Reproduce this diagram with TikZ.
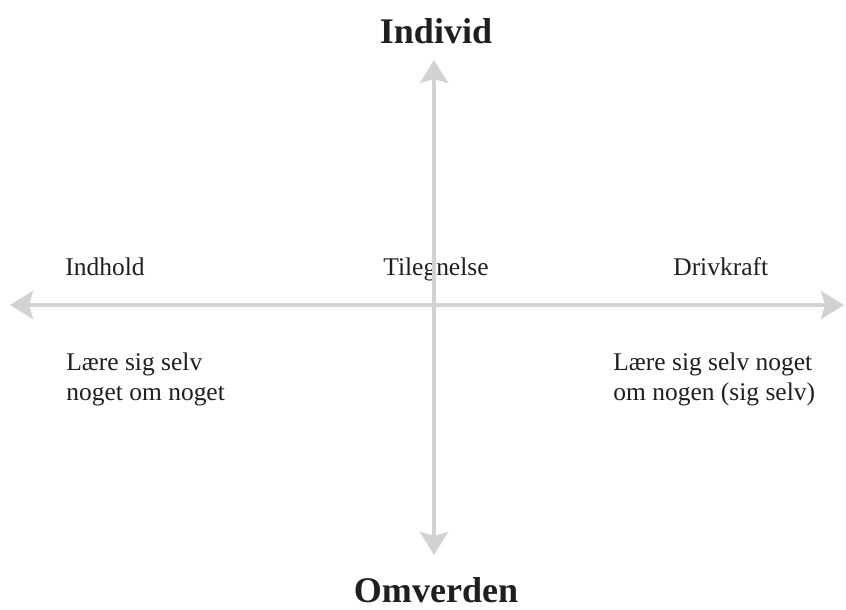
\documentclass[tikz,border=0pt]{standalone}
\usepackage{fontspec}
\setmainfont{Liberation Serif}
\usepackage{tikz}
\usetikzlibrary{arrows.meta, positioning}
\definecolor{axisgray}{RGB}{209,210,212}
\tikzstyle{axisline} = [draw=axisgray, line width=2.3pt, -{Stealth[length=0.46cm, width=0.56cm, inset=0.08cm]}]
\tikzstyle{title} = [inner sep=0pt, font=\fontsize{20.5}{24}\selectfont\bfseries, text=black!88]
\tikzstyle{axislabel} = [inner sep=0pt, anchor=base west, font=\fontsize{14.5}{17}\selectfont, text=black!88]
\tikzstyle{note} = [inner sep=0pt, anchor=base west, align=left, font=\fontsize{14.5}{17.5}\selectfont, text=black!88]

\begin{document}
\begin{tikzpicture}
\useasboundingbox (0,0) rectangle (16.92,12.18);
\coordinate (origin) at (8.68,6.08);
\coordinate (top) at (8.68,10.98);
\coordinate (bottom) at (8.68,1.08);
\coordinate (left) at (0.20,6.08);
\coordinate (right) at (16.88,6.08);

\node (individ) [title, anchor=base] at (8.72,11.30) {Individ};
\node (omverden) [title, anchor=base] at (8.72,0.13) {Omverden};
\node (indhold) [axislabel] at (1.30,6.66) {Indhold};
\node (tilegnelse) [axislabel] at (7.66,6.66) {Tilegnelse};
\node (drivkraft) [axislabel] at (13.46,6.66) {Drivkraft};
\node (noteleft) [note] at (1.32,4.16) {Lære sig selv\\noget om noget};
\node (noteright) [note] at (12.26,4.16) {Lære sig selv noget\\om nogen (sig selv)};

\draw[axisline] (origin) -- (top);
\draw[axisline] (origin) -- (bottom);
\draw[axisline] (origin) -- (left);
\draw[axisline] (origin) -- (right);
\end{tikzpicture}
\end{document}
